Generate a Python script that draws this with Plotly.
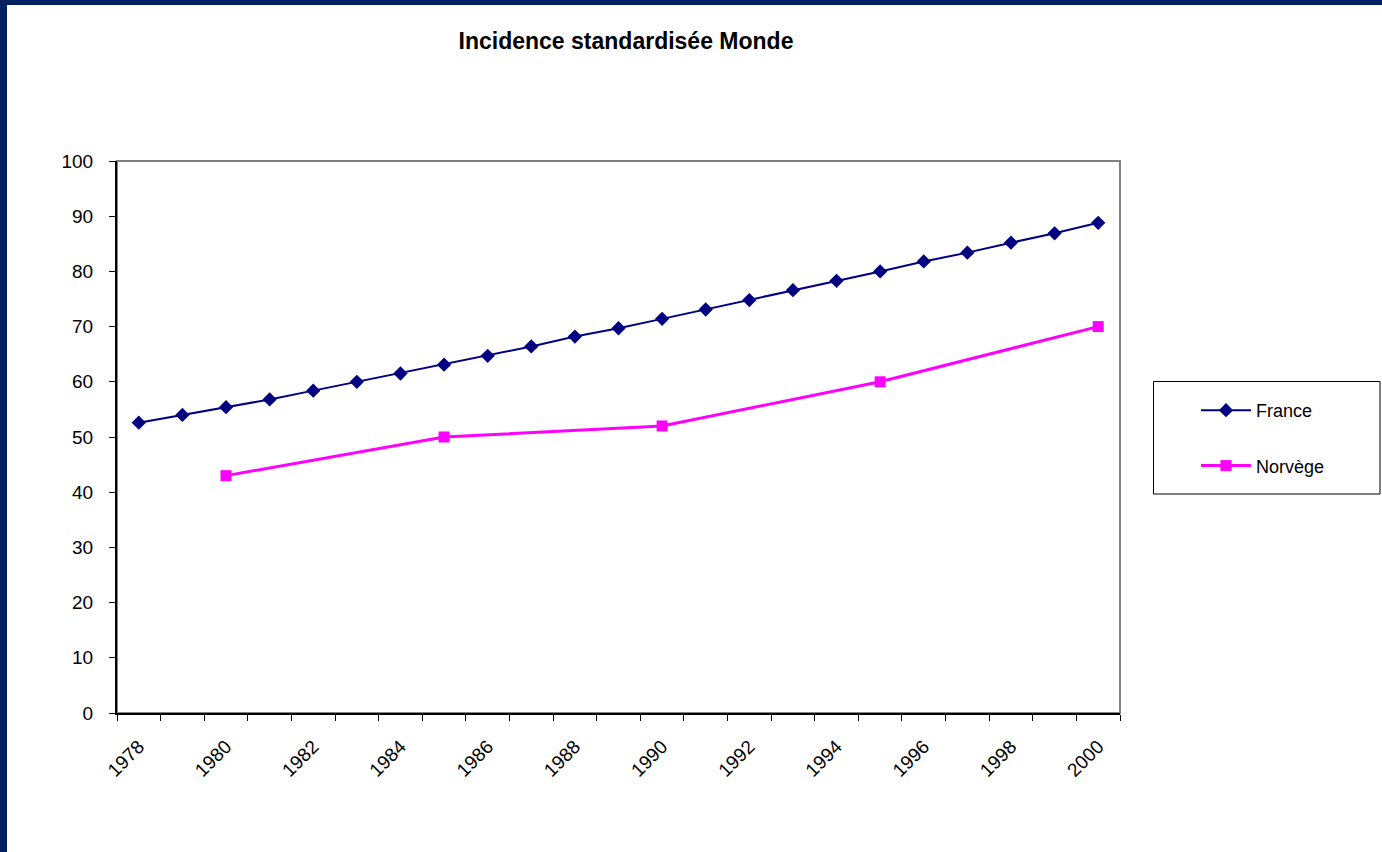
import plotly.graph_objects as go

years = list(range(1978, 2001))
france = [52.6, 54.0, 55.4, 56.8, 58.4, 60.0, 61.5, 63.1, 64.7, 66.4, 68.2, 69.7,
          71.4, 73.1, 74.8, 76.6, 78.3, 80.0, 81.8, 83.4, 85.2, 86.9, 88.8]
norway_years = [1980, 1985, 1990, 1995, 2000]
norway = [43.0, 50.0, 52.0, 60.0, 70.0]
tick_years = list(range(1978, 2001, 2))
tick_labels = [str(y) for y in tick_years]
title_text = "Incidence standardisée Monde"

W, H = 1382, 852
L, R, T, B = 117, 1120, 161, 713
pw, ph = R - L, B - T

def px(x):
    return (x - L) / pw

def py(y):
    return (B - y) / ph

FONT = "Arial, 'Liberation Sans', sans-serif"
NAVY = "#000080"
MAG = "#FF00FF"
FRAME = "#002060"

fig = go.Figure()
fig.add_trace(go.Scatter(
    x=years, y=france, name="France", mode="lines+markers",
    line=dict(color=NAVY, width=2),
    marker=dict(symbol="diamond", size=11, color=NAVY),
    legendgroup="a",
))
fig.add_trace(go.Scatter(
    x=norway_years, y=norway, name="Norvège", mode="lines+markers",
    line=dict(color=MAG, width=3),
    marker=dict(symbol="square", size=11, color=MAG),
    legendgroup="b",
))

shapes = [
    dict(type="rect", xref="paper", yref="paper", x0=0, x1=1, y0=0, y1=1,
         line=dict(color="#808080", width=2), layer="below"),
    dict(type="rect", xref="paper", yref="paper", x0=px(1153.5), x1=px(1380),
         y0=py(494), y1=py(381.5), line=dict(color="black", width=1),
         fillcolor="white", layer="below"),
    dict(type="rect", xref="paper", yref="paper", x0=px(-5), x1=px(W + 5),
         y0=py(5), y1=py(-5), line=dict(width=0), fillcolor=FRAME, layer="above"),
    dict(type="rect", xref="paper", yref="paper", x0=px(-5), x1=px(7),
         y0=py(H + 5), y1=py(-5), line=dict(width=0), fillcolor=FRAME, layer="above"),
]

fig.update_layout(
    width=W, height=H,
    margin=dict(l=L, r=W - R, t=T, b=H - B),
    paper_bgcolor="white", plot_bgcolor="white",
    font=dict(family=FONT, size=18, color="black"),
    title=dict(text="<b>" + title_text + "</b>", x=px(626), xref="paper",
               xanchor="center", y=1 - 41 / H, yanchor="middle",
               font=dict(size=23, family=FONT, color="black")),
    showlegend=True,
    legend=dict(x=px(1196), y=py(392), xanchor="left", yanchor="top",
                bgcolor="rgba(0,0,0,0)", borderwidth=0,
                font=dict(size=18, family=FONT), tracegroupgap=29,
                itemwidth=50),
    shapes=shapes,
    xaxis=dict(
        range=[1977.5, 2000.5], tickmode="array", tickvals=tick_years,
        ticktext=tick_labels, tickangle=-45, ticks="", showgrid=False,
        zeroline=False, showline=True, linecolor="black", linewidth=2,
        ticklabelstandoff=13,
        tickfont=dict(size=19, family=FONT),
        minor=dict(tick0=1977.5, dtick=1, ticks="outside", ticklen=6,
                   tickcolor="black", tickwidth=1, showgrid=False),
    ),
    yaxis=dict(
        range=[0, 100], dtick=10, ticks="outside", ticklen=6, tickcolor="black",
        showgrid=False, zeroline=False, showline=True, linecolor="black",
        linewidth=2, ticklabelstandoff=12,
        tickfont=dict(size=19, family=FONT),
    ),
)

fig.write_html("out.html")
